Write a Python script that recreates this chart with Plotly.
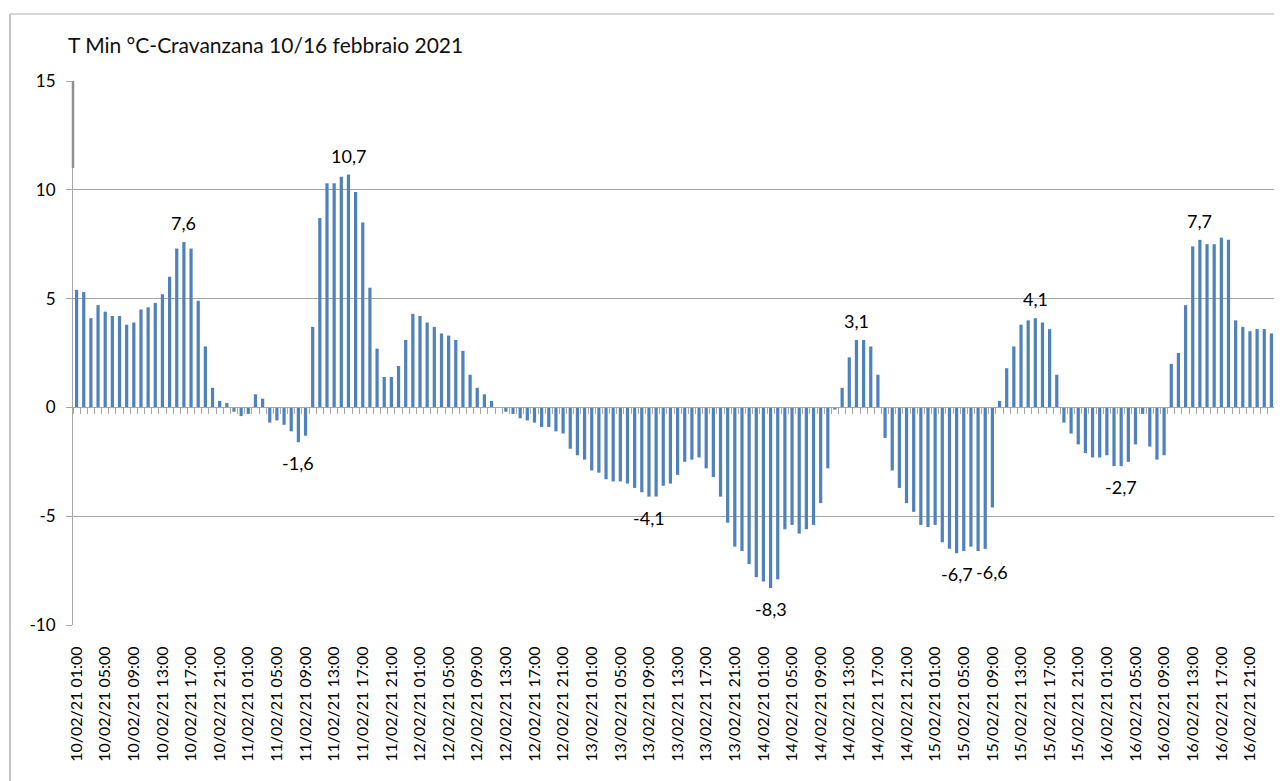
import plotly.graph_objects as go
import pandas as pd

# hourly timestamps (10/02/21 01:00 onward, 168 hours)
start_time = "2021-02-10 01:00"
n_hours = 168

t_min = [
    5.4, 5.3, 4.1, 4.7, 4.4, 4.2, 4.2, 3.8, 3.9, 4.5,
    4.6, 4.8, 5.2, 6.0, 7.3, 7.6, 7.3, 4.9, 2.8, 0.9,
    0.3, 0.2, -0.2, -0.4, -0.3, 0.6, 0.4, -0.7, -0.6,
    -0.8, -1.1, -1.6, -1.3, 3.7, 8.7, 10.3, 10.3, 10.6, 10.7,
    9.9, 8.5, 5.5, 2.7, 1.4, 1.4, 1.9, 3.1, 4.3, 4.2,
    3.9, 3.7, 3.4, 3.3, 3.1, 2.6, 1.5, 0.9,
    0.6, 0.3, 0.0, -0.2, -0.3, -0.5, -0.6, -0.7, -0.9, -0.9,
    -1.1, -1.2, -1.9, -2.2, -2.4, -2.9, -3.0, -3.3, -3.4, -3.4,
    -3.5, -3.7, -3.9, -4.1, -4.1, -3.6, -3.5, -3.1,
    -2.5, -2.4, -2.3, -2.8, -3.2, -4.1, -5.3, -6.4, -6.6, -7.2,
    -7.8, -8.0, -8.3, -7.9, -5.6, -5.4, -5.8, -5.6, -5.4, -4.4,
    -2.8, -0.1,
    0.9, 2.3, 3.1, 3.1, 2.8, 1.5, -1.4, -2.9, -3.7, -4.4,
    -4.8, -5.4, -5.5, -5.4, -6.2, -6.5, -6.7, -6.6, -6.4, -6.6,
    -6.5, -4.6, 0.3, 1.8, 2.8, 3.8, 4.0, 4.1, 3.9, 3.6,
    1.5,
    -0.7, -1.2, -1.7, -2.1, -2.3, -2.3, -2.2, -2.7, -2.7, -2.5,
    -1.7, -0.3, -1.8, -2.4, -2.2, 2.0, 2.5, 4.7, 7.4, 7.7,
    7.5, 7.5, 7.8, 7.7, 4.0, 3.7, 3.5, 3.6, 3.6, 3.4,
]

# data labels: bar index and label text
label_idx = [15, 31, 38, 80, 97, 109, 123, 128, 134, 146, 157]
label_txt = ["7,6", "-1,6", "10,7", "-4,1", "-8,3", "3,1", "-6,7", "-6,6", "4,1", "-2,7", "7,7"]

y_ticks = [-10, -5, 0, 5, 10, 15]
y_tick_lbl = ["-10", "-5", "0", "5", "10", "15"]
title_text = "T Min °C-Cravanzana 10/16 febbraio 2021"

times = pd.date_range(start_time, periods=n_hours, freq="h")
x_idx = list(range(n_hours))
tick_pos = x_idx[::4]
tick_lbl = [t.strftime("%d/%m/%y %H:%M") for t in times[::4]]

FONT = "Lato"
GRID = "#a6a6a6"
BAR = "#4F81BD"

# the page body adds an 8px offset; figure is sized to compensate
OFF = 8
W, H = 1282 - OFF, 781 - OFF

fig = go.Figure()
fig.add_trace(go.Bar(
    x=x_idx, y=t_min, marker=dict(color=BAR, line=dict(width=0)),
    showlegend=False, hoverinfo="y",
))
# helper trace so the category (zero) axis with between-bar ticks is drawn
fig.add_trace(go.Scatter(x=[0], y=[None], xaxis="x2", yaxis="y",
                         showlegend=False, hoverinfo="skip"))

for i, txt in zip(label_idx, label_txt):
    v = float(txt.replace(",", "."))
    fig.add_annotation(
        x=i, y=v, text=txt, showarrow=False,
        yshift=19 if v > 0 else -21, yanchor="middle",
        font=dict(family=FONT, size=18, color="#000000"),
    )

fig.update_layout(
    width=W, height=H,
    margin=dict(l=73 - OFF, r=7, t=81 - OFF, b=156, autoexpand=False),
    paper_bgcolor="white", plot_bgcolor="white",
    bargap=0.55,
    title=dict(text=title_text, x=(68 - OFF) / W, xref="container", xanchor="left",
               y=1 - (46 - OFF) / H, yref="container", yanchor="middle",
               font=dict(family=FONT, size=21, color="#111111")),
    xaxis=dict(
        range=[-0.5, n_hours - 0.5], tickmode="array", tickvals=tick_pos, ticktext=tick_lbl,
        tickangle=-90, ticks="outside", ticklen=14, tickcolor="rgba(0,0,0,0)",
        showgrid=False, zeroline=False, showline=False, automargin=False,
        tickfont=dict(family=FONT, size=16, color="#000000"),
    ),
    xaxis2=dict(
        range=[-0.5, n_hours - 0.5], overlaying="x", anchor="free", position=0.4, side="bottom",
        tickmode="array", tickvals=[i + 0.5 for i in range(-1, n_hours)],
        ticks="outside", ticklen=6, tickcolor=GRID, tickwidth=1,
        showticklabels=False, showgrid=False, zeroline=False, automargin=False,
        showline=True, linecolor=GRID, linewidth=1,
    ),
    yaxis=dict(
        range=[-10, 15], tickmode="array", tickvals=y_ticks, ticktext=y_tick_lbl,
        showgrid=True, gridcolor=GRID, gridwidth=1, zeroline=False,
        showline=True, linecolor=GRID, linewidth=1, automargin=False,
        ticks="outside", ticklen=6, tickcolor=GRID, ticklabelstandoff=7,
        tickfont=dict(family=FONT, size=17, color="#000000"),
    ),
)

# chart-area frame (left and top borders)
fx0 = (10 - 73) / 1202
fy0 = (625 - 14) / 544
fig.add_shape(type="line", xref="paper", yref="paper", x0=fx0, x1=fx0, y0=fy0, y1=-0.3,
              line=dict(color="#b0b0b0", width=1.5))
fig.add_shape(type="line", xref="paper", yref="paper", x0=fx0, x1=1.01, y0=fy0, y1=fy0,
              line=dict(color="#c8c8c8", width=1.5))
# darker top segment of the value axis line, as in the original
fig.add_shape(type="line", xref="paper", yref="paper", x0=0, x1=0, y0=1, y1=(625 - 168) / 544,
              line=dict(color="#909090", width=2.5))

fig.write_html("out.html")
